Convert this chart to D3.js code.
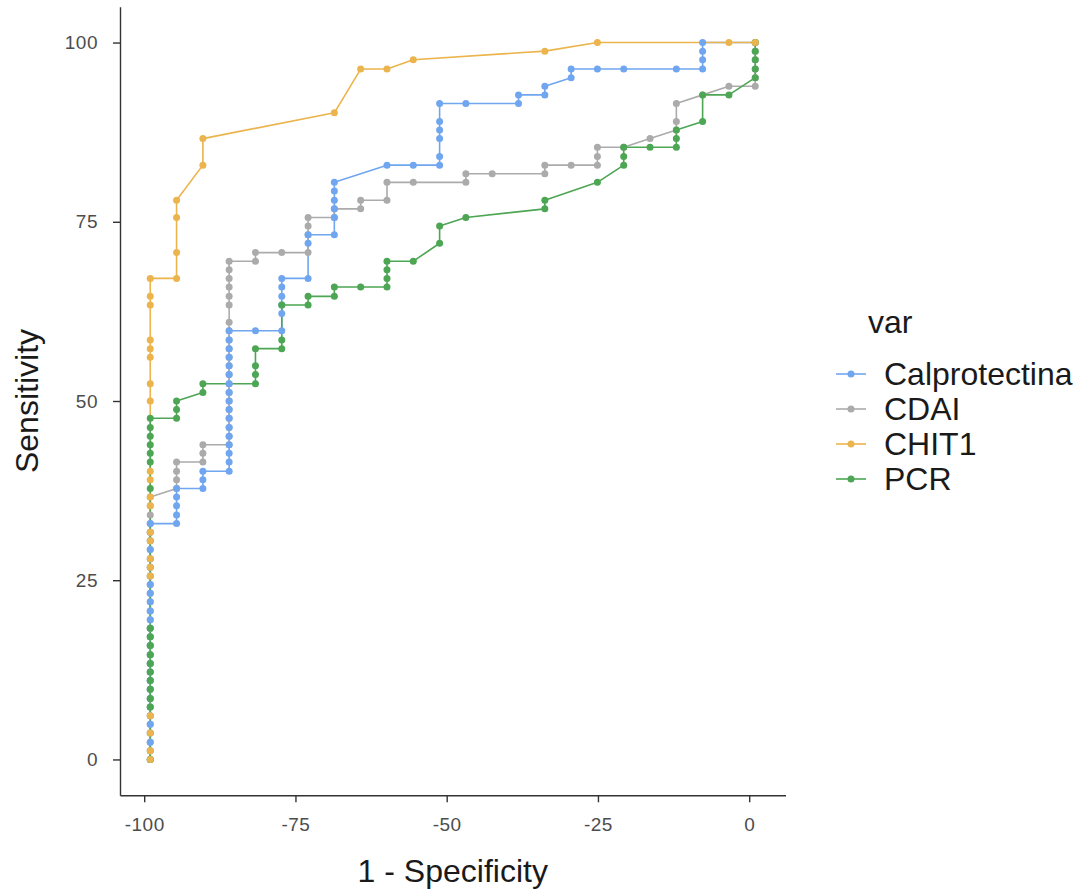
<!DOCTYPE html>
<html><head><meta charset="utf-8">
<script src="https://cdnjs.cloudflare.com/ajax/libs/d3/7.8.5/d3.min.js"></script>
<style>
body{margin:0;background:#fff;}
text{font-family:"Liberation Sans",Arial,sans-serif;}
</style>
</head><body>
<svg id="chart" width="1079" height="892"></svg>
<script>
// ---- data (x = 1 - Specificity, y = Sensitivity), grouped by x column ----
const seriesNames = ["Calprotectina", "CDAI", "CHIT1", "PCR"];
const seriesColors = ["#70A6EF", "#ABABAB", "#EBB44C", "#4CA653"];
const pointDrawOrder = ["CDAI", "Calprotectina", "PCR", "CHIT1"];
const xTicks = [-100, -75, -50, -25, 0];
const yTicks = [0, 25, 50, 75, 100];

const calprotectina = [
  [-99, [0,1.2,2.4,3.7,4.9,6.1,7.3,8.5,9.8,11.0,12.2,13.4,14.6,15.9,17.1,18.3,19.5,20.7,22.0,23.2,24.4,25.6,26.8,28.0,29.3,30.5,31.7,32.9]],
  [-94.65, [32.9,34.1,35.4,36.6,37.8]],
  [-90.30, [37.8,39.0,40.2]],
  [-85.96, [40.2,41.5,42.7,43.9,45.1,46.3,47.6,48.8,50.0,51.2,52.4,53.7,54.9,56.1,57.3,58.5,59.8]],
  [-81.61, [59.8]],
  [-77.26, [59.8,62.2,63.4,64.6,65.9,67.1]],
  [-72.91, [67.1,72.0,73.2]],
  [-68.57, [73.2,75.6,76.8,78.0,79.3,80.5]],
  [-59.87, [82.9]],
  [-55.52, [82.9]],
  [-51.17, [82.9,84.1,86.6,87.8,89.0,91.5]],
  [-46.83, [91.5]],
  [-38.13, [91.5,92.7]],
  [-33.78, [92.7,93.9]],
  [-29.43, [95.1,96.3]],
  [-25.09, [96.3]],
  [-20.74, [96.3]],
  [-12.04, [96.3]],
  [-7.70, [96.3,97.6,98.8,100]],
  [1.00, [100]]
];

const cdai = [
  [-99, [0,1.2,2.4,3.7,4.9,6.1,7.3,8.5,9.8,11.0,12.2,13.4,14.6,15.9,17.1,18.3,19.5,20.7,22.0,23.2,24.4,25.6,26.8,28.0,29.3,30.5,31.7,32.9,34.1,35.4,36.6]],
  [-94.65, [37.8,39.0,40.2,41.5]],
  [-90.30, [41.5,42.7,43.9]],
  [-85.96, [43.9,45.1,46.3,47.6,48.8,50.0,51.2,52.4,53.7,54.9,56.1,57.3,58.5,59.8,61.0,63.4,64.6,65.9,67.1,68.3,69.5]],
  [-81.61, [69.5,70.7]],
  [-77.26, [70.7]],
  [-72.91, [70.7,73.2,74.4,75.6]],
  [-68.57, [75.6,76.8]],
  [-64.22, [76.8,78.0]],
  [-59.87, [78.0,80.5]],
  [-55.52, [80.5]],
  [-46.83, [80.5,81.7]],
  [-42.48, [81.7]],
  [-33.78, [81.7,82.9]],
  [-29.43, [82.9]],
  [-25.09, [82.9,84.1,85.4]],
  [-20.74, [85.4]],
  [-16.39, [86.6]],
  [-12.04, [87.8,89.0,91.5]],
  [-7.70, [92.7]],
  [-3.35, [93.9]],
  [1.00, [93.9,95.1,96.3,97.6,98.8,100]]
];

const chit1 = [
  [-99, [0,1.2,3.7,6.1,25.6,26.8,28.0,30.5,31.7,35.4,36.6,39.0,40.2,50.0,52.4,56.1,57.3,58.5,63.4,64.6,67.1]],
  [-94.65, [67.1,70.7,75.6,78.0]],
  [-90.30, [82.9,86.6]],
  [-68.57, [90.2]],
  [-64.22, [96.3]],
  [-59.87, [96.3]],
  [-55.52, [97.6]],
  [-33.78, [98.8]],
  [-25.09, [100]],
  [-3.35, [100]],
  [1.00, [100]]
];

const pcr = [
  [-99, [0,7.3,8.5,9.8,11.0,12.2,13.4,14.6,15.9,17.1,18.3,37.8,41.5,42.7,43.9,45.1,46.3,47.6]],
  [-94.65, [47.6,48.8,50.0]],
  [-90.30, [51.2,52.4]],
  [-81.61, [52.4,53.7,54.9,57.3]],
  [-77.26, [57.3,58.5,63.4]],
  [-72.91, [63.4,64.6]],
  [-68.57, [64.6,65.9]],
  [-64.22, [65.9]],
  [-59.87, [65.9,67.1,68.3,69.5]],
  [-55.52, [69.5]],
  [-51.17, [72.0,74.4]],
  [-46.83, [75.6]],
  [-33.78, [76.8,78.0]],
  [-25.09, [80.5]],
  [-20.74, [82.9,84.1,85.4]],
  [-16.39, [85.4]],
  [-12.04, [85.4,86.6,87.8]],
  [-7.70, [89.0,92.7]],
  [-3.35, [92.7]],
  [1.00, [95.1,96.3,97.6,98.8,100]]
];

const seriesData = {"Calprotectina": calprotectina, "CDAI": cdai, "CHIT1": chit1, "PCR": pcr};

// ---- layout ----
const svg = d3.select("#chart");
const x = d3.scaleLinear().domain([-104, 6]).range([120, 785.5]);
const y = d3.scaleLinear().domain([-5, 105]).range([795.3, 6.7]);
const color = d3.scaleOrdinal().domain(seriesNames).range(seriesColors);

function flatten(cols) {
  const pts = [];
  cols.forEach(([xv, ys]) => ys.forEach(yv => pts.push({x: xv, y: yv})));
  return pts;
}

// axes
const fmt = d => String(d);
const xAxis = svg.append("g").attr("transform", `translate(0,${y.range()[0]})`)
  .call(d3.axisBottom(x).tickValues(xTicks).tickFormat(fmt).tickSize(7).tickPadding(15).tickSizeOuter(0));
const yAxis = svg.append("g").attr("transform", `translate(${x.range()[0]},0)`)
  .call(d3.axisLeft(y).tickValues(yTicks).tickFormat(fmt).tickSize(7).tickPadding(15).tickSizeOuter(0));
[xAxis, yAxis].forEach(g => {
  g.select(".domain").attr("stroke", "#333").attr("stroke-width", 1.4);
  g.selectAll(".tick line").attr("stroke", "#333").attr("stroke-width", 1.4);
  g.selectAll(".tick text").attr("fill", "#4D4D4D").style("font-size", "19px")
    .style("letter-spacing", "0.5px")
    .style("font-family", '"Liberation Sans",Arial,sans-serif');
});

// lines
const line = d3.line().x(d => x(d.x)).y(d => y(d.y));
seriesNames.forEach(name => {
  svg.append("path").datum(flatten(seriesData[name]))
    .attr("fill", "none").attr("stroke", color(name)).attr("stroke-width", 1.6)
    .attr("stroke-linejoin", "round").attr("d", line);
});

// points
pointDrawOrder.forEach(name => {
  svg.append("g").selectAll("circle").data(flatten(seriesData[name])).join("circle")
    .attr("cx", d => x(d.x)).attr("cy", d => y(d.y)).attr("r", 3.5)
    .attr("fill", color(name));
});

// axis titles
svg.append("text").attr("x", (x.range()[0] + x.range()[1]) / 2).attr("y", 882)
  .attr("text-anchor", "middle").attr("fill", "#1a1a1a").style("font-size", "32px")
  .text("1 - Specificity");
svg.append("text").attr("transform", `translate(38,${(y.range()[0] + y.range()[1]) / 2}) rotate(-90)`)
  .attr("text-anchor", "middle").attr("fill", "#1a1a1a").style("font-size", "32px")
  .text("Sensitivity");

// legend
const leg = svg.append("g").attr("transform", "translate(834,0)");
leg.append("text").attr("x", 34).attr("y", 333).attr("fill", "#1a1a1a").style("font-size", "32px").text("var");
seriesNames.forEach((name, i) => {
  const cy = 374 + i * 35;
  leg.append("line").attr("x1", 2).attr("x2", 32).attr("y1", cy).attr("y2", cy)
    .attr("stroke", color(name)).attr("stroke-width", 1.6);
  leg.append("circle").attr("cx", 17).attr("cy", cy).attr("r", 3.5).attr("fill", color(name));
  leg.append("text").attr("x", 50).attr("y", cy).attr("dy", "0.35em").attr("fill", "#1a1a1a")
    .style("font-size", "32px").text(name);
});
</script>
</body></html>
